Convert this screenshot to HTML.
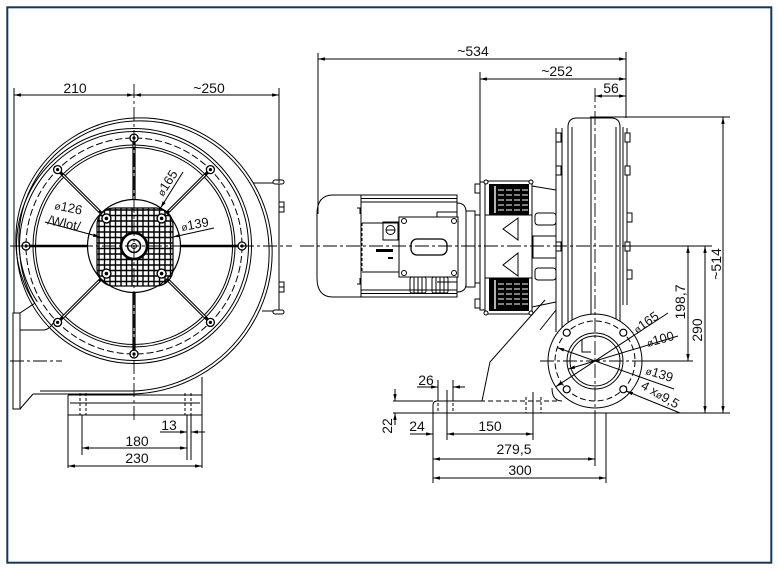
<!DOCTYPE html>
<html><head><meta charset="utf-8"><style>
html,body{margin:0;padding:0;background:#fff;}
svg{display:block;}
text{font-family:"Liberation Sans",Arial,sans-serif;fill:#111;}
</style></head><body>
<svg width="779" height="570" viewBox="0 0 779 570" xmlns="http://www.w3.org/2000/svg">
<defs>
<marker id="a" viewBox="0 0 10 6" refX="10" refY="3" markerWidth="7" markerHeight="3.4" preserveAspectRatio="none" orient="auto-start-reverse" markerUnits="userSpaceOnUse"><path d="M0,0 L10,3 L0,6 z" fill="#000"/></marker>
<clipPath id="grc"><rect x="97" y="208" width="76" height="78" rx="17"/></clipPath>
</defs>
<rect x="7.3" y="7.3" width="764" height="555.4" fill="none" stroke="#14375a" stroke-width="2"/>

<g fill="none" stroke="#000" stroke-width="1">
<!-- ===== FRONT VIEW ===== -->
<!-- scroll -->
<path d="M34.7,303.3 A116,116 0 0 1 16,246 A120,120 0 0 1 28.9,185.3 A123,123 0 0 1 71.7,138 A126,126 0 0 1 134,118 A130,130 0 0 1 199.7,132.3 A133,133 0 0 1 250.6,178.7 A136,136 0 0 1 272,246 A140,140 0 0 1 256.4,316.7 A143,143 0 0 1 206.3,371.3 A146,146 0 0 1 134,394 L33,394"/>
<path d="M37.3,301.8 A113,113 0 0 1 19,246 A117,117 0 0 1 31.5,186.8 A120,120 0 0 1 73.2,140.6 A123,123 0 0 1 134,121 A127,127 0 0 1 198.2,134.9 A130,130 0 0 1 248.1,180.1 A133,133 0 0 1 269,246 A137,137 0 0 1 253.8,315.2 A140,140 0 0 1 204.8,368.7 A143,143 0 0 1 134,391 L40,391"/>
<circle cx="134" cy="246" r="117.5"/>
<circle cx="134" cy="246" r="114.5"/>
<circle cx="134" cy="246" r="108" stroke-dasharray="7 3"/>
<circle cx="134" cy="246" r="101"/>
<circle cx="134" cy="246" r="98.5"/>
<!-- spokes -->
<g stroke-width="3.2">
<line x1="167.2" y1="279.2" x2="207.5" y2="319.5"/><line x1="100.8" y1="279.2" x2="60.5" y2="319.5"/>
<line x1="100.8" y1="212.8" x2="60.5" y2="172.5"/><line x1="167.2" y1="212.8" x2="207.5" y2="172.5"/>
<line x1="134" y1="199" x2="134" y2="142"/><line x1="134" y1="293" x2="134" y2="350"/>
</g>
<g stroke="#fff" stroke-width="1">
<line x1="169" y1="281" x2="205" y2="317"/><line x1="99" y1="281" x2="63" y2="317"/>
<line x1="99" y1="211" x2="63" y2="175"/><line x1="169" y1="211" x2="205" y2="175"/>
<line x1="134" y1="201" x2="134" y2="145"/><line x1="134" y1="291" x2="134" y2="347"/>
</g>
<line x1="181" y1="246" x2="238" y2="246" stroke-width="2.6"/>
<line x1="87" y1="246" x2="30" y2="246" stroke-width="2.6"/>
<!-- bolts ring -->
<g fill="#fff" stroke-width="1.3">
<circle cx="134" cy="138" r="4"/><circle cx="210.4" cy="169.6" r="4"/><circle cx="242" cy="246" r="4"/><circle cx="210.4" cy="322.4" r="4"/>
<circle cx="134" cy="354" r="4"/><circle cx="57.6" cy="322.4" r="4"/><circle cx="26" cy="246" r="4"/><circle cx="57.6" cy="169.6" r="4"/>
</g>
<g fill="#000" stroke="none">
<circle cx="134" cy="138" r="1.6"/><circle cx="210.4" cy="169.6" r="1.6"/><circle cx="242" cy="246" r="1.6"/><circle cx="210.4" cy="322.4" r="1.6"/>
<circle cx="134" cy="354" r="1.6"/><circle cx="57.6" cy="322.4" r="1.6"/><circle cx="26" cy="246" r="1.6"/><circle cx="57.6" cy="169.6" r="1.6"/>
</g>
<!-- hub -->
<circle cx="134" cy="246" r="46.5" fill="#fff" stroke-width="1.2"/>
<g clip-path="url(#grc)" stroke-width="1.4">
<path d="M99,200V295M104.5,200V295M110,200V295M115.5,200V295M121,200V295M126.5,200V295M132,200V295M137.5,200V295M143,200V295M148.5,200V295M154,200V295M159.5,200V295M165,200V295M170.5,200V295"/>
<path d="M90,210H180M90,215.5H180M90,221H180M90,226.5H180M90,232H180M90,237.5H180M90,243H180M90,248.5H180M90,254H180M90,259.5H180M90,265H180M90,270.5H180M90,276H180M90,281.5H180"/>
</g>
<rect x="97" y="208" width="76" height="78" rx="17" stroke-width="1.2"/>
<circle cx="134" cy="246" r="13" fill="#fff" stroke-width="2.6"/>
<circle cx="134" cy="246" r="6.5" stroke-width="1.6"/>
<circle cx="134" cy="246" r="2.5" stroke-width="1"/>
<g fill="#fff" stroke-width="1.4">
<circle cx="106.4" cy="218.4" r="4.5"/><circle cx="161.6" cy="218.4" r="4.5"/><circle cx="106.4" cy="273.6" r="4.5"/><circle cx="161.6" cy="273.6" r="4.5"/>
</g>
<g fill="#000" stroke="none">
<circle cx="106.4" cy="218.4" r="1.8"/><circle cx="161.6" cy="218.4" r="1.8"/><circle cx="106.4" cy="273.6" r="1.8"/><circle cx="161.6" cy="273.6" r="1.8"/>
</g>
<!-- right box -->
<path d="M253,183 H279 V311 H262"/>
<rect x="273" y="180" width="11" height="4" rx="2" fill="#fff"/>
<rect x="273" y="310" width="11" height="4" rx="2" fill="#fff"/>
<rect x="279" y="202" width="5" height="10"/><line x1="279" y1="207" x2="284" y2="207"/>
<rect x="279" y="282" width="5" height="10"/><line x1="279" y1="287" x2="284" y2="287"/>
<!-- outlet flange -->
<rect x="13" y="313" width="7" height="96"/>
<path d="M20,313 L34.7,303.3 M20,330 H43 Q50,330 55,320 M20,409 L33,394"/>
<!-- base -->
<path d="M68,395 H202 M70,403 H200 M68,415 H202 M68,395 V468 M202,377 V468"/>
<path d="M80,393 V415 M86,393 V415 M185,393 V415 M191,393 V415" stroke-dasharray="3 2"/>
<path d="M82,415 V455 M187,415 V460 M191,415 V460"/>
<!-- centerlines -->
<g stroke-width="0.9" stroke-dasharray="14 3 3 3">
<path d="M10,246 H292"/><path d="M134,84 V420"/><path d="M10,361 H62"/>
</g>
<!-- dims front -->
<path d="M14,88 V313 M279,88 V183"/>
<line x1="14" y1="95" x2="134" y2="95" marker-start="url(#a)" marker-end="url(#a)"/>
<line x1="134" y1="95" x2="279" y2="95" marker-start="url(#a)" marker-end="url(#a)"/>
<line x1="82" y1="448" x2="187" y2="448" marker-start="url(#a)" marker-end="url(#a)"/>
<line x1="68" y1="466" x2="202" y2="466" marker-start="url(#a)" marker-end="url(#a)"/>
<line x1="160" y1="432" x2="187" y2="432" marker-end="url(#a)"/>
<line x1="205" y1="432" x2="191" y2="432" marker-end="url(#a)"/>
<!-- leaders front -->
<line x1="45" y1="222" x2="100" y2="237" marker-end="url(#a)"/>
<line x1="183" y1="172" x2="160.5" y2="208" marker-end="url(#a)"/>
<line x1="214" y1="228" x2="173" y2="237" marker-end="url(#a)"/>

<!-- ===== SIDE VIEW ===== -->
<!-- motor fan cover -->
<path d="M361,195 H333 Q317,195 317,214 V278 Q317,297 333,297 H361"/>
<rect x="361" y="195" width="96" height="102"/>
<path d="M361,198.5 H457 M361,202 H457 M361,290 H457 M361,293.5 H457"/>
<path d="M362,223 H399 M362,272 H399"/>
<path d="M362,223 V272" stroke-dasharray="3 2"/>
<path d="M357,208 h3 v6 M357,284 h3 v-6"/>
<rect x="383" y="222" width="15" height="18"/>
<circle cx="390.5" cy="230" r="4.5"/><line x1="386" y1="230" x2="395" y2="230"/>
<rect x="376" y="249" width="17" height="3" fill="#000" stroke="none"/>
<rect x="388" y="257" width="5" height="2" fill="#000" stroke="none"/>
<rect x="399" y="217" width="59" height="60" fill="#fff"/>
<g fill="#fff"><circle cx="404" cy="221" r="2.5"/><circle cx="454" cy="221" r="2.5"/><circle cx="404" cy="273" r="2.5"/><circle cx="454" cy="273" r="2.5"/></g>
<rect x="411" y="239" width="36" height="16" rx="6" stroke-width="1.3"/>
<rect x="410" y="277" width="16" height="16" rx="2"/><path d="M414,277 V293 M418,277 V293 M422,277 V293"/>
<rect x="432" y="277" width="16" height="16" rx="2"/><path d="M436,277 V293 M440,277 V293 M444,277 V293"/>
<path d="M437,212 H457 M437,212 V217 M437,282 H457"/>
<path d="M457,203 Q466,203 466,212 V284 Q466,292 457,292"/>
<rect x="466" y="211" width="9" height="76"/>
<path d="M475,215 H480 M475,283 H480"/>
<rect x="480" y="182" width="5" height="128"/>
<rect x="475" y="184" width="5" height="9"/><rect x="475" y="299" width="5" height="9"/>
<!-- adapter -->
<rect x="485" y="181" width="47" height="133" fill="#fff"/>
<rect x="489" y="184" width="40" height="31" fill="#000" stroke="none"/>
<rect x="489" y="278" width="40" height="33" fill="#000" stroke="none"/>
<g stroke="#fff" stroke-width="1.1" stroke-dasharray="6 2">
<path d="M498,190 H528 M498,195 H528 M498,200 H528 M498,205 H528 M498,210 H528"/>
<path d="M498,284 H528 M498,289 H528 M498,294 H528 M498,299 H528 M498,304 H528"/>
</g>
<path d="M495,186 V213 M495,280 V309" stroke="#fff" stroke-width="1.4"/>
<path d="M485,215 H532 M485,278 H532"/>
<path d="M518,218 L503,229 L518,240 Z M518,253 L503,265 L518,276 Z"/>
<g fill="#fff"><circle cx="486" cy="182" r="2"/><circle cx="531" cy="182" r="2"/><circle cx="486" cy="313" r="2"/><circle cx="531" cy="313" r="2"/></g>
<path d="M532,186 L556,190 M532,307 L556,302"/>
<rect x="535" y="213" width="21" height="12" rx="3"/>
<rect x="533" y="236" width="23" height="22"/>
<rect x="535" y="268" width="21" height="12" rx="3"/>
<path d="M545,300 L490,362 L482,401"/>
<path d="M556,310 L540,330"/>
<!-- housing -->
<path d="M556,128 V332 M562,128 V332"/>
<path d="M568,322 V127 Q568,118 577,118 H611 Q620,118 620,127 V321"/>
<path d="M572,127 V322 M616,127 V322"/>
<path d="M623,127 V305 M627,128 V305"/>
<path d="M591,118 V315"/>
<g fill="#fff">
<rect x="556" y="133" width="5" height="9"/><rect x="556" y="166" width="5" height="9"/><rect x="556" y="242" width="5" height="9"/>
<rect x="625" y="133" width="5" height="9"/><rect x="625" y="166" width="5" height="9"/><rect x="627" y="213" width="5" height="9"/><rect x="625" y="242" width="5" height="9"/><rect x="627" y="270" width="5" height="9"/>
</g>
<path d="M552,388 Q552,401 562,401"/>
<!-- inlet -->
<circle cx="595" cy="361" r="47" fill="#fff"/>
<circle cx="595" cy="361" r="40" stroke-dasharray="6 3"/>
<circle cx="595" cy="361" r="28"/>
<circle cx="595" cy="361" r="25"/>
<path d="M582,339 V352 H591"/>
<g fill="#fff" stroke-width="1.2">
<circle cx="566.7" cy="332.7" r="3.5"/><circle cx="623.3" cy="332.7" r="3.5"/><circle cx="566.7" cy="389.3" r="3.5"/><circle cx="623.3" cy="389.3" r="3.5"/>
</g>
<!-- base plate side -->
<path d="M433,413 V405 Q433,401 437,401 H480"/>
<path d="M480,401 H557" stroke-dasharray="5 3"/>
<path d="M438,398 V413 M453,398 V413 M526,397 V413 M541,397 V413" stroke-dasharray="3 2"/>
<path d="M447,390 V440 M533,392 V440"/>
<path d="M438,380 V398 M453,380 V398"/>
<!-- centerlines side -->
<g stroke-width="0.9" stroke-dasharray="14 3 3 3">
<path d="M300,246 H627"/><path d="M595,88 V413"/><path d="M540,361 H642"/>
</g>
<!-- ext lines side -->
<path d="M318,53 V214 M480,72 V182 M626,52 V118"/>
<path d="M590,117 H730 M627,246 H712 M642,361 H693 M393,413 H730 M393,401 H433"/>
<path d="M595,413 V466 M606,413 V483 M433,413 V483"/>
<!-- dims side -->
<line x1="318" y1="59" x2="626" y2="59" marker-start="url(#a)" marker-end="url(#a)"/>
<line x1="480" y1="79" x2="626" y2="79" marker-start="url(#a)" marker-end="url(#a)"/>
<line x1="595" y1="96" x2="626" y2="96" marker-start="url(#a)" marker-end="url(#a)"/>
<line x1="723" y1="117" x2="723" y2="413" marker-start="url(#a)" marker-end="url(#a)"/>
<line x1="688" y1="246" x2="688" y2="361" marker-start="url(#a)" marker-end="url(#a)"/>
<line x1="705" y1="246" x2="705" y2="413" marker-start="url(#a)" marker-end="url(#a)"/>
<line x1="395" y1="389" x2="395" y2="401" marker-end="url(#a)"/>
<line x1="395" y1="425" x2="395" y2="413" marker-end="url(#a)"/>
<line x1="417" y1="387" x2="438" y2="387" marker-end="url(#a)"/>
<line x1="465" y1="387" x2="453" y2="387" marker-end="url(#a)"/>
<line x1="410" y1="434" x2="433" y2="434" marker-end="url(#a)"/>
<line x1="447" y1="434" x2="533" y2="434" marker-start="url(#a)" marker-end="url(#a)"/>
<line x1="433" y1="459" x2="595" y2="459" marker-start="url(#a)" marker-end="url(#a)"/>
<line x1="433" y1="478" x2="606" y2="478" marker-start="url(#a)" marker-end="url(#a)"/>
<!-- leaders side -->
<line x1="668" y1="313" x2="555.7" y2="386.8" marker-end="url(#a)"/>
<line x1="678" y1="336" x2="568.2" y2="369.1" marker-end="url(#a)"/>
<line x1="674" y1="389" x2="557.3" y2="347.6" marker-end="url(#a)"/>
<line x1="680" y1="413" x2="626" y2="391" marker-end="url(#a)"/>
</g>

<!-- TEXT -->
<g font-size="14" text-anchor="middle">
<text x="75" y="93">210</text>
<text x="209" y="93">~250</text>
<text x="137" y="446">180</text>
<text x="137" y="463">230</text>
<text x="169" y="430">13</text>
<text x="473" y="56">~534</text>
<text x="557" y="76">~252</text>
<text x="611" y="93">56</text>
<text transform="translate(721,264) rotate(-90)">~514</text>
<text transform="translate(685,302) rotate(-90)">198,7</text>
<text transform="translate(702,330) rotate(-90)">290</text>
<text transform="translate(392,426) rotate(-90)">22</text>
<text x="426" y="385">26</text>
<text x="417" y="431">24</text>
<text x="490" y="431">150</text>
<text x="514" y="454">279,5</text>
<text x="520" y="475">300</text>
</g>
<g font-size="13">
<text transform="translate(54,209) rotate(12)"><tspan font-size="10">ø</tspan>126</text>
<text transform="translate(47,224) rotate(12)">/Wlot/</text>
<text transform="translate(163,197) rotate(-57)"><tspan font-size="10">ø</tspan>165</text>
<text transform="translate(182,231) rotate(-10)"><tspan font-size="10">ø</tspan>139</text>
<text transform="translate(637,334) rotate(-35)"><tspan font-size="10">ø</tspan>165</text>
<text transform="translate(648,347) rotate(-15)"><tspan font-size="10">ø</tspan>100</text>
<text transform="translate(645,374) rotate(17)"><tspan font-size="10">ø</tspan>139</text>
<text transform="translate(640,388) rotate(30)">4 x<tspan font-size="10">ø</tspan>9,5</text>
</g>
</svg>
</body></html>
